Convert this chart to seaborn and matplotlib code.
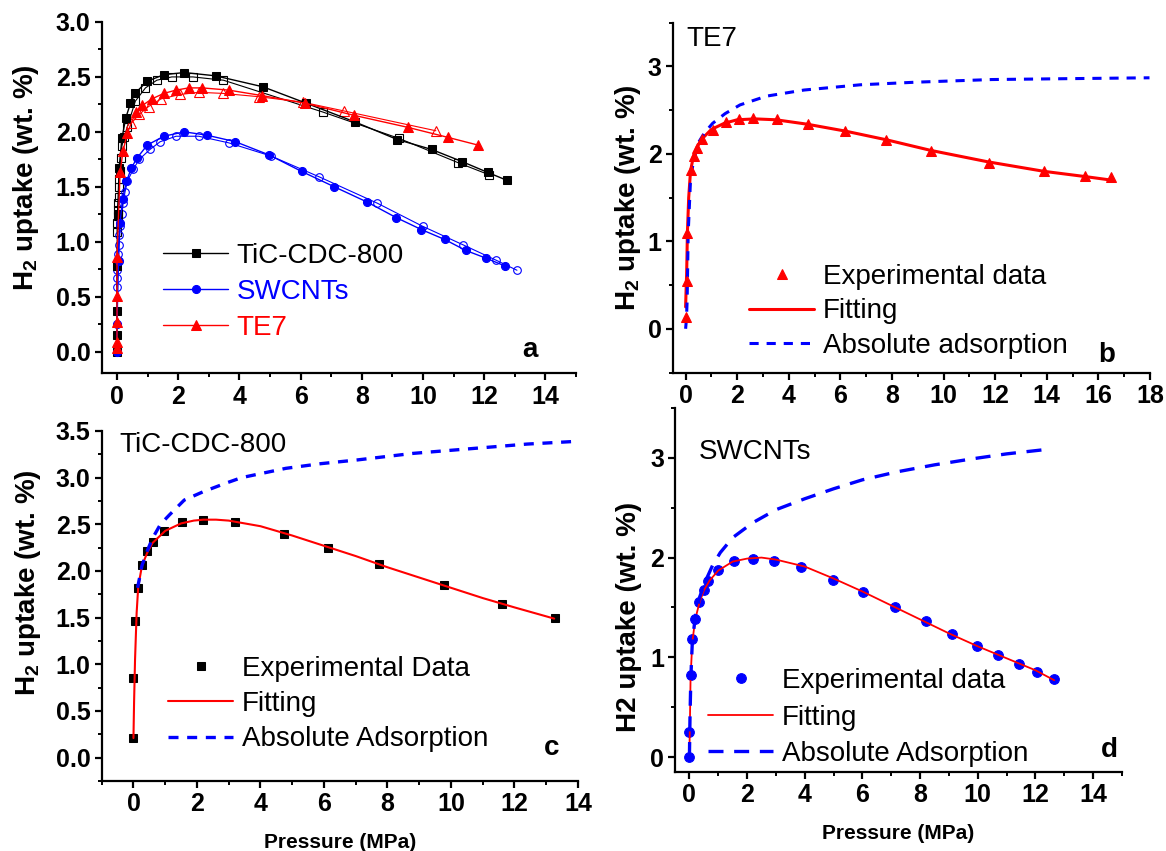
import matplotlib
matplotlib.use("Agg")
import matplotlib.pyplot as plt
import seaborn as sns
from matplotlib.ticker import MultipleLocator, FormatStrFormatter

# ---------------- data ----------------
# Panel a: TiC-CDC-800 (adsorption filled / desorption open)
tic_ads_p = [0, 0, 0, 0, 0.02, 0.07, 0.16, 0.29, 0.44, 0.59, 0.98, 1.53, 2.2, 3.22, 4.77, 6.19, 7.78, 9.16, 10.28, 11.27, 12.12, 12.73]
tic_ads_u = [0, 0.15, 0.37, 0.78, 1.25, 1.67, 1.94, 2.13, 2.26, 2.35, 2.46, 2.52, 2.54, 2.51, 2.41, 2.26, 2.09, 1.93, 1.84, 1.73, 1.63, 1.56]
tic_des_p = [12.15, 11.14, 9.22, 6.73, 3.48, 2.48, 1.79, 1.30, 0.93, 0.60, 0.33, 0.23, 0.16, 0.12, 0.10, 0.07, 0.06, 0.05, 0.04, 0.02, 0.02, 0.01, 0.01]
tic_des_u = [1.61, 1.72, 1.94, 2.18, 2.47, 2.50, 2.50, 2.47, 2.40, 2.28, 2.04, 1.95, 1.87, 1.76, 1.64, 1.57, 1.50, 1.41, 1.35, 1.29, 1.23, 1.17, 1.09]
# Panel a: SWCNTs
swc_ads_p = [0, 0, 0.05, 0.1, 0.18, 0.31, 0.47, 0.65, 0.99, 1.53, 2.2, 2.93, 3.87, 4.97, 6.03, 7.1, 8.18, 9.12, 9.95, 10.71, 11.4, 12.06, 12.67]
swc_ads_u = [0, 0.25, 0.82, 1.17, 1.39, 1.55, 1.67, 1.76, 1.88, 1.96, 2.0, 1.97, 1.91, 1.79, 1.64, 1.5, 1.36, 1.22, 1.11, 1.02, 0.92, 0.85, 0.78]
swc_des_p = [13.07, 12.4, 11.32, 9.99, 8.51, 6.61, 5.03, 3.65, 2.67, 1.93, 1.41, 1.08, 0.73, 0.53, 0.34, 0.26, 0.2, 0.16, 0.1, 0.06, 0.05, 0.04, 0.02, 0.01, 0.01, 0.0]
swc_des_u = [0.74, 0.83, 0.97, 1.14, 1.35, 1.59, 1.78, 1.90, 1.96, 1.96, 1.91, 1.84, 1.75, 1.66, 1.55, 1.45, 1.35, 1.25, 1.14, 1.06, 0.97, 0.89, 0.83, 0.74, 0.67, 0.59]
# Panel a: TE7
te7_ads_p = [0, 0, 0, 0, 0, 0.1, 0.2, 0.34, 0.61, 0.83, 1.14, 1.53, 1.93, 2.34, 2.79, 3.65, 4.74, 6.16, 7.75, 9.52, 10.81, 11.79]
te7_ads_u = [0.03, 0.09, 0.27, 0.51, 0.86, 1.63, 1.83, 1.99, 2.18, 2.24, 2.30, 2.35, 2.38, 2.40, 2.40, 2.38, 2.33, 2.26, 2.15, 2.04, 1.95, 1.88]
te7_des_p = [10.42, 7.42, 6.07, 4.63, 3.46, 2.67, 2.06, 1.44, 1.03, 0.73, 0.47]
te7_des_u = [2.01, 2.19, 2.27, 2.32, 2.35, 2.36, 2.34, 2.30, 2.23, 2.16, 2.08]

# Panel b: TE7 experimental / fitting / absolute adsorption
te7_exp_p = [0, 0.04, 0.07, 0.19, 0.31, 0.44, 0.63, 1.05, 1.56, 2.08, 2.62, 3.54, 4.74, 6.16, 7.76, 9.53, 11.76, 13.9, 15.47, 16.49]
te7_exp_u = [0.14, 0.55, 1.10, 1.81, 1.97, 2.07, 2.17, 2.27, 2.36, 2.40, 2.41, 2.40, 2.34, 2.26, 2.16, 2.03, 1.90, 1.80, 1.75, 1.73]
te7_fit_p = [0.0, 0.02, 0.04, 0.07, 0.12, 0.19, 0.3, 0.45, 0.63, 1.0, 1.5, 2.0, 2.7, 3.5, 4.7, 6.2, 7.8, 9.5, 11.7, 13.9, 15.5, 16.5]
te7_fit_u = [0.25, 0.45, 0.62, 1.1, 1.5, 1.8, 1.97, 2.08, 2.17, 2.28, 2.35, 2.39, 2.40, 2.39, 2.34, 2.26, 2.16, 2.04, 1.91, 1.80, 1.74, 1.70]
te7_abs_p = [0, 0.03, 0.06, 0.1, 0.19, 0.29, 0.48, 0.73, 1.05, 1.53, 2.11, 3.13, 4.59, 6.77, 8.95, 11.86, 14.77, 17.98]
te7_abs_u = [0, 0.1, 0.32, 1.09, 1.70, 1.89, 2.12, 2.24, 2.35, 2.46, 2.56, 2.66, 2.73, 2.79, 2.82, 2.85, 2.86, 2.87]

# Panel c: TiC-CDC-800
tic_exp_p = [0, 0, 0.04, 0.13, 0.27, 0.44, 0.6, 0.97, 1.54, 2.19, 3.2, 4.74, 6.14, 7.74, 9.78, 11.62, 13.29]
tic_exp_u = [0.21, 0.85, 1.46, 1.82, 2.06, 2.21, 2.31, 2.43, 2.52, 2.55, 2.53, 2.40, 2.25, 2.07, 1.85, 1.65, 1.50]
tic_fit_p = [0.0, 0.02, 0.05, 0.1, 0.15, 0.27, 0.44, 0.6, 1.0, 1.5, 1.9, 2.2, 2.6, 3.0, 4.0, 5.0, 6.0, 7.0, 8.0, 9.0, 10.0, 11.0, 12.0, 13.25]
tic_fit_u = [0.21, 0.6, 1.05, 1.55, 1.83, 2.06, 2.2, 2.3, 2.43, 2.51, 2.54, 2.55, 2.55, 2.54, 2.48, 2.38, 2.27, 2.16, 2.04, 1.93, 1.82, 1.71, 1.61, 1.49]
tic_abs_p = [0.13, 0.27, 0.44, 0.6, 0.85, 1.13, 1.6, 2.2, 2.9, 3.4, 4.1, 4.8, 5.9, 7.05, 8.8, 10.6, 12.4, 14.0]
tic_abs_u = [1.82, 2.06, 2.22, 2.35, 2.5, 2.6, 2.76, 2.85, 2.94, 3.0, 3.05, 3.1, 3.15, 3.19, 3.26, 3.31, 3.36, 3.39]

# Panel d: SWCNTs
swc_exp_p = [0, 0, 0.04, 0.1, 0.21, 0.34, 0.49, 0.64, 1.0, 1.55, 2.19, 2.94, 3.88, 4.97, 6.03, 7.13, 8.2, 9.1, 9.96, 10.71, 11.42, 12.06, 12.65]
swc_exp_u = [0, 0.25, 0.82, 1.18, 1.38, 1.55, 1.67, 1.77, 1.88, 1.97, 1.99, 1.97, 1.91, 1.78, 1.65, 1.50, 1.36, 1.23, 1.11, 1.02, 0.93, 0.85, 0.78]
swc_fit_p = [0.0, 0.02, 0.04, 0.1, 0.2, 0.35, 0.5, 0.7, 1.0, 1.5, 2.0, 2.5, 3.0, 4.0, 5.0, 6.0, 7.0, 8.0, 9.0, 10.0, 11.0, 12.0, 12.65]
swc_fit_u = [0.05, 0.4, 0.8, 1.15, 1.38, 1.55, 1.67, 1.77, 1.87, 1.96, 1.99, 2.0, 1.98, 1.91, 1.79, 1.66, 1.52, 1.38, 1.24, 1.11, 0.99, 0.87, 0.77]
swc_abs_p = [0, 0.02, 0.05, 0.1, 0.2, 0.35, 0.55, 0.8, 1.07, 1.5, 2.2, 3.0, 4.0, 5.0, 6.0, 7.2, 8.5, 9.8, 11.0, 12.55]
swc_abs_u = [0, 0.4, 0.8, 1.15, 1.4, 1.6, 1.76, 1.92, 2.05, 2.2, 2.35, 2.48, 2.59, 2.69, 2.78, 2.86, 2.93, 2.99, 3.04, 3.09]

# ---------------- style ----------------
sns.set_theme(style="ticks")
plt.rcParams["font.family"] = ["Liberation Sans", "DejaVu Sans"]
plt.rcParams.update({
    "mathtext.fontset": "custom",
    "mathtext.rm": "Liberation Sans:bold",
    "mathtext.it": "Liberation Sans:bold",
    "mathtext.bf": "Liberation Sans:bold",
    "text.color": "black",
    "axes.labelcolor": "black",
    "xtick.labelcolor": "black",
    "ytick.labelcolor": "black",
    "axes.linewidth": 1.6,
    "xtick.major.width": 1.6, "ytick.major.width": 1.6,
    "xtick.minor.width": 1.4, "ytick.minor.width": 1.4,
    "xtick.major.size": 5, "ytick.major.size": 5,
    "xtick.minor.size": 3, "ytick.minor.size": 3,
    "xtick.direction": "out", "ytick.direction": "out",
    "xtick.color": "black", "ytick.color": "black",
    "axes.edgecolor": "black",
})

RED = "#FF0000"
BLUE = "#0000FF"
BLACK = "#000000"
W, H = 1166, 851

fig = plt.figure(figsize=(W / 100, H / 100), dpi=100)


def add_axes(L, R, T, B):
    return fig.add_axes([L / W, 1 - B / H, (R - L) / W, (B - T) / H])


ax_a = add_axes(101.7, 576, 22, 373.5)
ax_b = add_axes(672.7, 1150, 22.7, 372.5)
ax_c = add_axes(101.7, 578, 431, 781)
ax_d = add_axes(675, 1122, 408, 772)

TICK_FS = 18
LEG_FS = 20
LAB_FS = 20


def style_axis(ax, xlim, ylim, xmaj, xmin, ymaj, ymin, yfmt):
    ax.set_xlim(*xlim)
    ax.set_ylim(*ylim)
    ax.xaxis.set_major_locator(MultipleLocator(xmaj))
    ax.xaxis.set_minor_locator(MultipleLocator(xmin))
    ax.yaxis.set_major_locator(MultipleLocator(ymaj))
    ax.yaxis.set_minor_locator(MultipleLocator(ymin))
    ax.yaxis.set_major_formatter(FormatStrFormatter(yfmt))
    ax.xaxis.set_major_formatter(FormatStrFormatter("%d"))
    sns.despine(ax=ax)
    ax.tick_params(axis="both", which="major", labelsize=TICK_FS, pad=3)
    for lab in ax.get_xticklabels() + ax.get_yticklabels():
        lab.set_fontweight("bold")
    ax.set_xlabel("")
    ax.set_ylabel("")


def line(ax, x, y, **kw):
    sns.lineplot(x=x, y=y, ax=ax, sort=False, estimator=None, **kw)
    return ax.lines[-1]


def legend(ax, handles, x, y, spacing):
    return ax.legend(handles=handles, loc="upper left", bbox_to_anchor=(x / W, 1 - y / H),
                     bbox_transform=fig.transFigure, frameon=False, fontsize=LEG_FS,
                     handlelength=2.35, handletextpad=0.3, labelspacing=spacing,
                     borderpad=0, borderaxespad=0, numpoints=1)


# ---------------- panel a ----------------
line(ax_a, tic_des_p, tic_des_u, color=BLACK, linewidth=0.8, marker="s", markersize=5.5,
     markerfacecolor="none", markeredgecolor=BLACK, markeredgewidth=0.8, label="_nolegend_")
line(ax_a, swc_des_p, swc_des_u, color=BLUE, linewidth=0.8, marker="o", markersize=5.5,
     markerfacecolor="none", markeredgecolor=BLUE, markeredgewidth=0.8, label="_nolegend_")
line(ax_a, te7_des_p, te7_des_u, color=RED, linewidth=0.8, marker="^", markersize=6.5,
     markerfacecolor="none", markeredgecolor=RED, markeredgewidth=0.8, label="_nolegend_")
la1 = line(ax_a, tic_ads_p, tic_ads_u, color=BLACK, linewidth=1.0, marker="s", markersize=5.5,
           markerfacecolor=BLACK, markeredgecolor=BLACK, label="TiC-CDC-800")
la2 = line(ax_a, swc_ads_p, swc_ads_u, color=BLUE, linewidth=1.0, marker="o", markersize=5.8,
           markerfacecolor=BLUE, markeredgecolor=BLUE, label="SWCNTs")
la3 = line(ax_a, te7_ads_p, te7_ads_u, color=RED, linewidth=1.0, marker="^", markersize=6.5,
           markerfacecolor=RED, markeredgecolor=RED, label="TE7")
style_axis(ax_a, (-0.5, 15), (-0.2, 3.0), 2, 1, 0.5, 0.25, "%.1f")
leg = legend(ax_a, [la1, la2, la3], 163, 243, 0.36)
for txt, c in zip(leg.get_texts(), [BLACK, BLUE, RED]):
    txt.set_color(c)
ax_a.text(530 / W, 1 - 350 / H, "a", transform=fig.transFigure, fontsize=LAB_FS,
          fontweight="bold", ha="center", va="center")

# ---------------- panel b ----------------
fit_b = line(ax_b, te7_fit_p, te7_fit_u, color=RED, linewidth=2.2, label="Fitting")
abs_b = line(ax_b, te7_abs_p, te7_abs_u, color=BLUE, linewidth=2.2, label="Absolute adsorption")
abs_b.set_dashes([3.0, 2.6])
exp_b = line(ax_b, te7_exp_p, te7_exp_u, color=RED, linestyle="none", marker="^", markersize=7.5,
             markerfacecolor=RED, markeredgecolor=RED, label="Experimental data")
style_axis(ax_b, (-0.5, 18), (-0.5, 3.5), 2, 1, 1, 0.5, "%d")
legend(ax_b, [exp_b, fit_b, abs_b], 749, 264, 0.3)
ax_b.text(686 / W, 1 - 39 / H, "TE7", transform=fig.transFigure, fontsize=LEG_FS,
          ha="left", va="center")
ax_b.text(1107 / W, 1 - 355 / H, "b", transform=fig.transFigure, fontsize=LAB_FS,
          fontweight="bold", ha="center", va="center")

# ---------------- panel c ----------------
exp_c = line(ax_c, tic_exp_p, tic_exp_u, color=BLACK, linestyle="none", marker="s", markersize=5.5,
             markerfacecolor=BLACK, markeredgecolor=BLACK, label="Experimental Data")
fit_c = line(ax_c, tic_fit_p, tic_fit_u, color=RED, linewidth=1.5, label="Fitting")
abs_c = line(ax_c, tic_abs_p, tic_abs_u, color=BLUE, linewidth=2.4, label="Absolute Adsorption")
abs_c.set_dashes([3.0, 2.6])
style_axis(ax_c, (-1, 14), (-0.25, 3.5), 2, 1, 0.5, 0.25, "%.1f")
legend(ax_c, [exp_c, fit_c, abs_c], 168, 656, 0.33)
ax_c.text(119 / W, 1 - 445 / H, "TiC-CDC-800", transform=fig.transFigure, fontsize=LEG_FS,
          ha="left", va="center")
ax_c.text(552 / W, 1 - 748 / H, "c", transform=fig.transFigure, fontsize=LAB_FS,
          fontweight="bold", ha="center", va="center")

# ---------------- panel d ----------------
exp_d = line(ax_d, swc_exp_p, swc_exp_u, color=BLUE, linestyle="none", marker="o", markersize=7,
             markerfacecolor=BLUE, markeredgecolor=BLUE, label="Experimental data")
fit_d = line(ax_d, swc_fit_p, swc_fit_u, color=RED, linewidth=1.3, label="Fitting")
abs_d = line(ax_d, swc_abs_p, swc_abs_u, color=BLUE, linewidth=2.4, label="Absolute Adsorption")
abs_d.set_dashes([4.5, 3.2])
style_axis(ax_d, (-0.5, 15), (-0.15, 3.5), 2, 1, 1, 0.5, "%d")
legend(ax_d, [exp_d, fit_d, abs_d], 708, 668, 0.38)
ax_d.text(699 / W, 1 - 452 / H, "SWCNTs", transform=fig.transFigure, fontsize=LEG_FS,
          ha="left", va="center")
ax_d.text(1109 / W, 1 - 750 / H, "d", transform=fig.transFigure, fontsize=LAB_FS,
          fontweight="bold", ha="center", va="center")

# x labels for bottom panels
ax_c.set_xlabel("Pressure (MPa)", fontsize=15, fontweight="bold", labelpad=12)
ax_d.set_xlabel("Pressure (MPa)", fontsize=15, fontweight="bold", labelpad=12)

# y labels
ylab_sub = "H$_2$ uptake (wt. %)"
for ax, xc, yc, txt in [(ax_a, -0.127, 0.556, ylab_sub),
                        (ax_b, -0.063, 0.5, ylab_sub),
                        (ax_c, -0.1235, 0.567, ylab_sub),
                        (ax_d, -0.074, 0.426, "H2 uptake (wt. %)")]:
    ax.set_ylabel(txt, fontsize=LAB_FS, fontweight="bold")
    ax.yaxis.set_label_coords(xc, yc)

fig.savefig("out.png", dpi=100)
